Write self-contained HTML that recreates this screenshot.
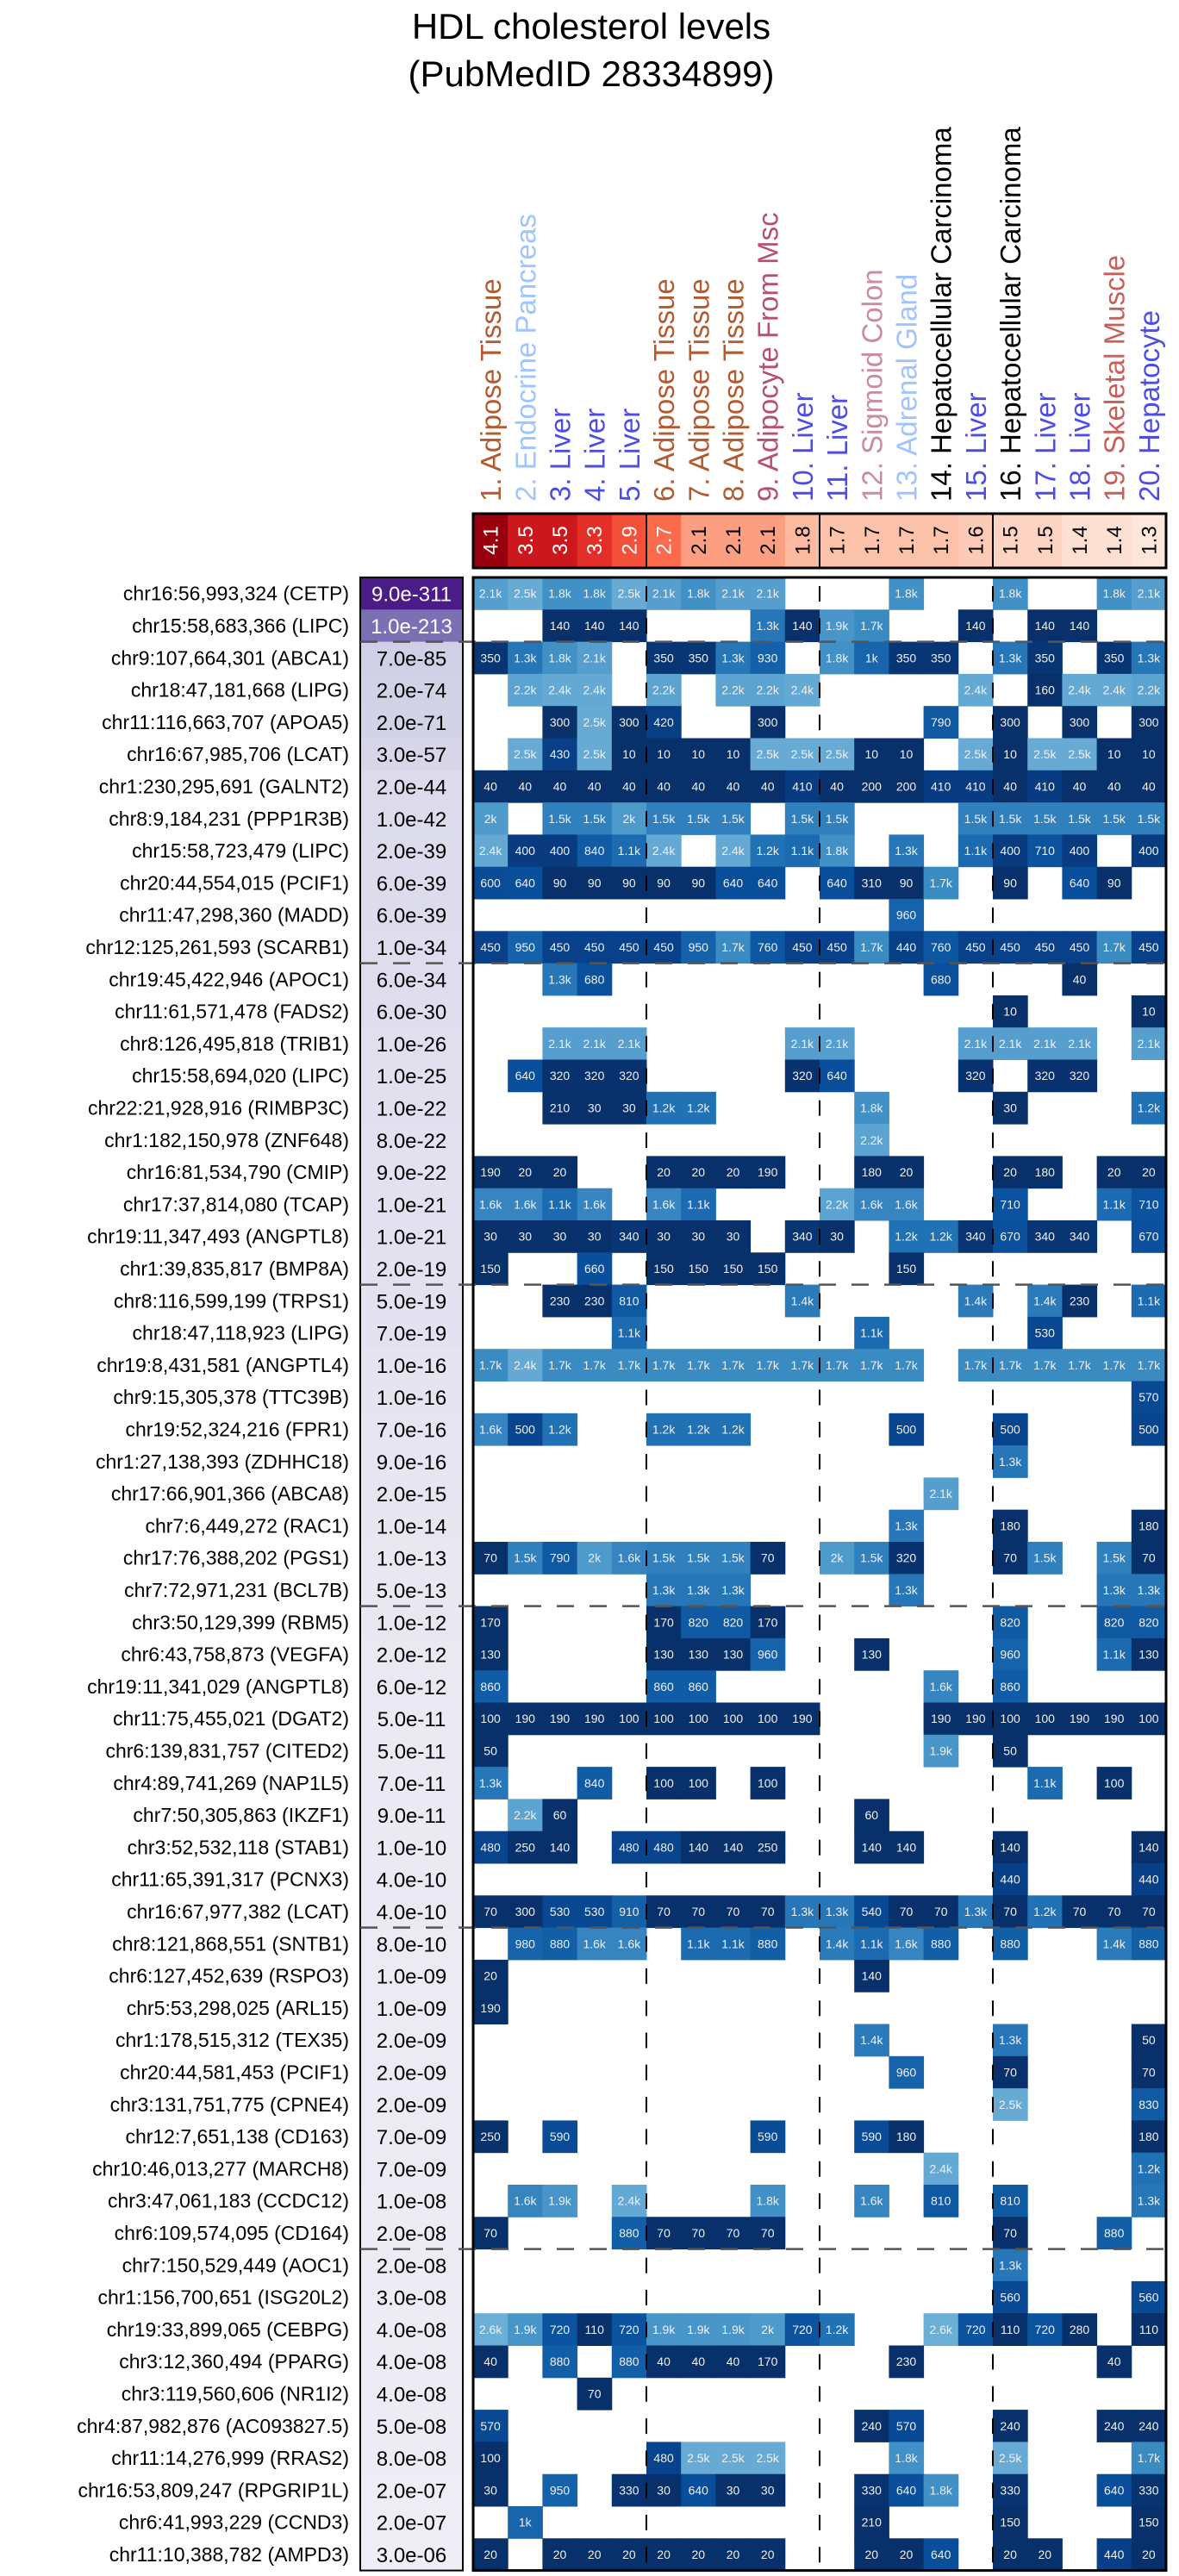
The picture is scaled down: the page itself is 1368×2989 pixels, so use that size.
<!DOCTYPE html>
<html><head><meta charset="utf-8">
<style>
html,body{margin:0;padding:0;background:#fff;}
svg{display:block;font-family:"Liberation Sans",Arial,sans-serif;}
</style></head>
<body>
<svg id="chart" xmlns="http://www.w3.org/2000/svg" width="1368" height="2989" viewBox="0 0 1368 2989">
<text x="686" y="45" font-size="42" text-anchor="middle">HDL cholesterol levels</text>
<text x="686" y="100" font-size="42" text-anchor="middle">(PubMedID 28334899)</text>
<g id="cols"></g><g id="strip"></g><g id="rows"></g><g id="pbox"></g><g id="heat"></g><g id="lines"></g>
</svg>
<script>
const tissues = ["1. Adipose Tissue","2. Endocrine Pancreas","3. Liver","4. Liver","5. Liver","6. Adipose Tissue","7. Adipose Tissue","8. Adipose Tissue","9. Adipocyte From Msc","10. Liver","11. Liver","12. Sigmoid Colon","13. Adrenal Gland","14. Hepatocellular Carcinoma","15. Liver","16. Hepatocellular Carcinoma","17. Liver","18. Liver","19. Skeletal Muscle","20. Hepatocyte"];
const tissueColors = ["#b35a2f","#9fc4ff","#4d4de6","#4d4de6","#4d4de6","#b35a2f","#b35a2f","#b35a2f","#b85070","#4d4de6","#4d4de6","#c98ca0","#9fc4ff","#000000","#4d4de6","#000000","#4d4de6","#4d4de6","#c8605a","#4d4de6"];
const enrichment = [4.1,3.5,3.5,3.3,2.9,2.7,2.1,2.1,2.1,1.8,1.7,1.7,1.7,1.7,1.6,1.5,1.5,1.4,1.4,1.3];
const snps = ["chr16:56,993,324 (CETP)","chr15:58,683,366 (LIPC)","chr9:107,664,301 (ABCA1)","chr18:47,181,668 (LIPG)","chr11:116,663,707 (APOA5)","chr16:67,985,706 (LCAT)","chr1:230,295,691 (GALNT2)","chr8:9,184,231 (PPP1R3B)","chr15:58,723,479 (LIPC)","chr20:44,554,015 (PCIF1)","chr11:47,298,360 (MADD)","chr12:125,261,593 (SCARB1)","chr19:45,422,946 (APOC1)","chr11:61,571,478 (FADS2)","chr8:126,495,818 (TRIB1)","chr15:58,694,020 (LIPC)","chr22:21,928,916 (RIMBP3C)","chr1:182,150,978 (ZNF648)","chr16:81,534,790 (CMIP)","chr17:37,814,080 (TCAP)","chr19:11,347,493 (ANGPTL8)","chr1:39,835,817 (BMP8A)","chr8:116,599,199 (TRPS1)","chr18:47,118,923 (LIPG)","chr19:8,431,581 (ANGPTL4)","chr9:15,305,378 (TTC39B)","chr19:52,324,216 (FPR1)","chr1:27,138,393 (ZDHHC18)","chr17:66,901,366 (ABCA8)","chr7:6,449,272 (RAC1)","chr17:76,388,202 (PGS1)","chr7:72,971,231 (BCL7B)","chr3:50,129,399 (RBM5)","chr6:43,758,873 (VEGFA)","chr19:11,341,029 (ANGPTL8)","chr11:75,455,021 (DGAT2)","chr6:139,831,757 (CITED2)","chr4:89,741,269 (NAP1L5)","chr7:50,305,863 (IKZF1)","chr3:52,532,118 (STAB1)","chr11:65,391,317 (PCNX3)","chr16:67,977,382 (LCAT)","chr8:121,868,551 (SNTB1)","chr6:127,452,639 (RSPO3)","chr5:53,298,025 (ARL15)","chr1:178,515,312 (TEX35)","chr20:44,581,453 (PCIF1)","chr3:131,751,775 (CPNE4)","chr12:7,651,138 (CD163)","chr10:46,013,277 (MARCH8)","chr3:47,061,183 (CCDC12)","chr6:109,574,095 (CD164)","chr7:150,529,449 (AOC1)","chr1:156,700,651 (ISG20L2)","chr19:33,899,065 (CEBPG)","chr3:12,360,494 (PPARG)","chr3:119,560,606 (NR1I2)","chr4:87,982,876 (AC093827.5)","chr11:14,276,999 (RRAS2)","chr16:53,809,247 (RPGRIP1L)","chr6:41,993,229 (CCND3)","chr11:10,388,782 (AMPD3)"];
const pvalues = ["9.0e-311","1.0e-213","7.0e-85","2.0e-74","2.0e-71","3.0e-57","2.0e-44","1.0e-42","2.0e-39","6.0e-39","6.0e-39","1.0e-34","6.0e-34","6.0e-30","1.0e-26","1.0e-25","1.0e-22","8.0e-22","9.0e-22","1.0e-21","1.0e-21","2.0e-19","5.0e-19","7.0e-19","1.0e-16","1.0e-16","7.0e-16","9.0e-16","2.0e-15","1.0e-14","1.0e-13","5.0e-13","1.0e-12","2.0e-12","6.0e-12","5.0e-11","5.0e-11","7.0e-11","9.0e-11","1.0e-10","4.0e-10","4.0e-10","8.0e-10","1.0e-09","1.0e-09","2.0e-09","2.0e-09","2.0e-09","7.0e-09","7.0e-09","1.0e-08","2.0e-08","2.0e-08","3.0e-08","4.0e-08","4.0e-08","4.0e-08","5.0e-08","8.0e-08","2.0e-07","2.0e-07","3.0e-06"];
const cells = [
"2.1k,2.5k,1.8k,1.8k,2.5k,2.1k,1.8k,2.1k,2.1k,,,,1.8k,,,1.8k,,,1.8k,2.1k",
",,140,140,140,,,,1.3k,140,1.9k,1.7k,,,140,,140,140,,",
"350,1.3k,1.8k,2.1k,,350,350,1.3k,930,,1.8k,1k,350,350,,1.3k,350,,350,1.3k",
",2.2k,2.4k,2.4k,,2.2k,,2.2k,2.2k,2.4k,,,,,2.4k,,160,2.4k,2.4k,2.2k",
",,300,2.5k,300,420,,,300,,,,,790,,300,,300,,300",
",2.5k,430,2.5k,10,10,10,10,2.5k,2.5k,2.5k,10,10,,2.5k,10,2.5k,2.5k,10,10",
"40,40,40,40,40,40,40,40,40,410,40,200,200,410,410,40,410,40,40,40",
"2k,,1.5k,1.5k,2k,1.5k,1.5k,1.5k,,1.5k,1.5k,,,,1.5k,1.5k,1.5k,1.5k,1.5k,1.5k",
"2.4k,400,400,840,1.1k,2.4k,,2.4k,1.2k,1.1k,1.8k,,1.3k,,1.1k,400,710,400,,400",
"600,640,90,90,90,90,90,640,640,,640,310,90,1.7k,,90,,640,90,",
",,,,,,,,,,,,960,,,,,,,",
"450,950,450,450,450,450,950,1.7k,760,450,450,1.7k,440,760,450,450,450,450,1.7k,450",
",,1.3k,680,,,,,,,,,,680,,,,40,,",
",,,,,,,,,,,,,,,10,,,,10",
",,2.1k,2.1k,2.1k,,,,,2.1k,2.1k,,,,2.1k,2.1k,2.1k,2.1k,,2.1k",
",640,320,320,320,,,,,320,640,,,,320,,320,320,,",
",,210,30,30,1.2k,1.2k,,,,,1.8k,,,,30,,,,1.2k",
",,,,,,,,,,,2.2k,,,,,,,,",
"190,20,20,,,20,20,20,190,,,180,20,,,20,180,,20,20",
"1.6k,1.6k,1.1k,1.6k,,1.6k,1.1k,,,,2.2k,1.6k,1.6k,,,710,,,1.1k,710",
"30,30,30,30,340,30,30,30,,340,30,,1.2k,1.2k,340,670,340,340,,670",
"150,,,660,,150,150,150,150,,,,150,,,,,,,",
",,230,230,810,,,,,1.4k,,,,,1.4k,,1.4k,230,,1.1k",
",,,,1.1k,,,,,,,1.1k,,,,,530,,,",
"1.7k,2.4k,1.7k,1.7k,1.7k,1.7k,1.7k,1.7k,1.7k,1.7k,1.7k,1.7k,1.7k,,1.7k,1.7k,1.7k,1.7k,1.7k,1.7k",
",,,,,,,,,,,,,,,,,,,570",
"1.6k,500,1.2k,,,1.2k,1.2k,1.2k,,,,,500,,,500,,,,500",
",,,,,,,,,,,,,,,1.3k,,,,",
",,,,,,,,,,,,,2.1k,,,,,,",
",,,,,,,,,,,,1.3k,,,180,,,,180",
"70,1.5k,790,2k,1.6k,1.5k,1.5k,1.5k,70,,2k,1.5k,320,,,70,1.5k,,1.5k,70",
",,,,,1.3k,1.3k,1.3k,,,,,1.3k,,,,,,1.3k,1.3k",
"170,,,,,170,820,820,170,,,,,,,820,,,820,820",
"130,,,,,130,130,130,960,,,130,,,,960,,,1.1k,130",
"860,,,,,860,860,,,,,,,1.6k,,860,,,,",
"100,190,190,190,100,100,100,100,100,190,,,,190,190,100,100,190,190,100",
"50,,,,,,,,,,,,,1.9k,,50,,,,",
"1.3k,,,840,,100,100,,100,,,,,,,,1.1k,,100,",
",2.2k,60,,,,,,,,,60,,,,,,,,",
"480,250,140,,480,480,140,140,250,,,140,140,,,140,,,,140",
",,,,,,,,,,,,,,,440,,,,440",
"70,300,530,530,910,70,70,70,70,1.3k,1.3k,540,70,70,1.3k,70,1.2k,70,70,70",
",980,880,1.6k,1.6k,,1.1k,1.1k,880,,1.4k,1.1k,1.6k,880,,880,,,1.4k,880",
"20,,,,,,,,,,,140,,,,,,,,",
"190,,,,,,,,,,,,,,,,,,,",
",,,,,,,,,,,1.4k,,,,1.3k,,,,50",
",,,,,,,,,,,,960,,,70,,,,70",
",,,,,,,,,,,,,,,2.5k,,,,830",
"250,,590,,,,,,590,,,590,180,,,,,,,180",
",,,,,,,,,,,,,2.4k,,,,,,1.2k",
",1.6k,1.9k,,2.4k,,,,1.8k,,,1.6k,,810,,810,,,,1.3k",
"70,,,,880,70,70,70,70,,,,,,,70,,,880,",
",,,,,,,,,,,,,,,1.3k,,,,",
",,,,,,,,,,,,,,,560,,,,560",
"2.6k,1.9k,720,110,720,1.9k,1.9k,1.9k,2k,720,1.2k,,,2.6k,720,110,720,280,,110",
"40,,880,,880,40,40,40,170,,,,230,,,,,,40,",
",,,70,,,,,,,,,,,,,,,,",
"570,,,,,,,,,,,240,570,,,240,,,240,240",
"100,,,,,480,2.5k,2.5k,2.5k,,,,1.8k,,,2.5k,,,,1.7k",
"30,,950,,330,30,640,30,30,,,330,640,1.8k,,330,,,640,330",
",1k,,,,,,,,,,210,,,,150,,,,150",
"20,,20,20,20,20,20,20,20,,,20,20,640,,20,20,,440,20"
];

const NS = "http://www.w3.org/2000/svg";
const X0 = 549, CW = 40.2, Y0 = 670, RH = 37.3;
const PX0 = 418, PX1 = 537;
function colX(i){ return X0 + i*CW; }
function rowY(r){ return Y0 + r*RH; }
function mk(tag, attrs, parent, txt){
  const el = document.createElementNS(NS, tag);
  for (const k in attrs) el.setAttribute(k, attrs[k]);
  if (txt !== undefined) el.textContent = txt;
  parent.appendChild(el);
  return el;
}
function hex2rgb(h){ return [parseInt(h.slice(1,3),16),parseInt(h.slice(3,5),16),parseInt(h.slice(5,7),16)]; }
function ramp(stops, v){
  if (v <= stops[0][0]) return stops[0][1];
  for (let i=1;i<stops.length;i++){
    if (v <= stops[i][0]){
      const t=(v-stops[i-1][0])/(stops[i][0]-stops[i-1][0]);
      const a=hex2rgb(stops[i-1][1]), b=hex2rgb(stops[i][1]);
      return "rgb("+a.map((c,j)=>Math.round(c+(b[j]-c)*t)).join(",")+")";
    }
  }
  return stops[stops.length-1][1];
}
const blueStops = [[0,"#08306b"],[300,"#08306b"],[450,"#08418a"],[650,"#094f9b"],[900,"#135fa8"],[1200,"#2171b5"],[1500,"#3080bd"],[1800,"#4190c6"],[2200,"#5ba3d0"],[2600,"#6baed6"]];
const redStops = [[1.3,"#fee6da"],[1.4,"#fee0d2"],[1.5,"#fdd4c2"],[1.6,"#fdcab5"],[1.7,"#fcc2aa"],[1.8,"#fcbba1"],[2.1,"#fc9f81"],[2.7,"#fb6a4a"],[2.9,"#f4513a"],[3.3,"#e32f27"],[3.5,"#cb181d"],[4.1,"#99000d"]];
const purpleStops = [[5,"#efedf5"],[20,"#e3e1ef"],[85,"#cfcfe5"],[213,"#7b70b3"],[311,"#4b1a87"]];
function parseVal(s){ return s.endsWith("k") ? parseFloat(s)*1000 : parseFloat(s); }

const gCols = document.getElementById("cols");
const gStrip = document.getElementById("strip");
const gRows = document.getElementById("rows");
const gP = document.getElementById("pbox");
const gHeat = document.getElementById("heat");
const gLines = document.getElementById("lines");

tissues.forEach((t,i)=>{
  const cx = colX(i)+CW/2+12;
  const el = mk("text",{x:0,y:0,"font-size":"33",fill:tissueColors[i],transform:"translate("+cx+",582) rotate(-90)"},gCols,t);
  
  
});

enrichment.forEach((v,i)=>{
  const r = mk("rect",{x:colX(i),y:596,width:CW+0.5,height:63,fill:ramp(redStops,v)},gStrip);
  
  
  const cx = colX(i)+CW/2+8.5;
  const t = mk("text",{x:0,y:0,"font-size":"24","text-anchor":"middle",fill:v>=2.5?"#fff":"#000",transform:"translate("+cx+",627) rotate(-90)"},gStrip,v.toFixed(1));
  
  
});
[5,10,15].forEach(c=>{
  const l = mk("line",{x1:colX(c),x2:colX(c),y1:596,y2:659,stroke:"#000","stroke-width":2},gStrip);
  
  
});
const sb = mk("rect",{x:colX(0),y:596,width:CW*20,height:63,fill:"none",stroke:"#000","stroke-width":3},gStrip);



snps.forEach((s,r)=>{
  const y = rowY(r);
  const t = mk("text",{x:405,y:y+RH/2+8,"font-size":"23","text-anchor":"end",fill:"#000"},gRows,s);
  
  
  const p = pvalues[r];
  const e = -Math.log10(parseFloat(p));
  const pr = mk("rect",{x:PX0,y:y,width:PX1-PX0,height:RH+0.5,fill:ramp(purpleStops,e)},gP);
  
  
  const pt = mk("text",{x:(PX0+PX1)/2,y:y+RH/2+9,"font-size":"24","text-anchor":"middle",fill:e>150?"#fff":"#000"},gP,p);
  
  

  const vals = cells[r].split(",");
  vals.forEach((v,c)=>{
    if (!v) return;
    const n = parseVal(v);
    const cr = mk("rect",{x:colX(c),y:y,width:CW+0.5,height:RH+0.5,fill:ramp(blueStops,n)},gHeat);
    
    
    const ct = mk("text",{x:colX(c)+CW/2,y:y+RH/2+5,"font-size":"14","text-anchor":"middle",fill:"#f0f0f0"},gHeat,v);
    
    
  });
});
const pb = mk("rect",{x:PX0,y:Y0,width:PX1-PX0,height:RH*62,fill:"none",stroke:"#000","stroke-width":2},gP);



[5,10,15].forEach(c=>{
  const l = mk("line",{x1:colX(c),x2:colX(c),y1:Y0+10,y2:Y0+RH*62,stroke:"#000","stroke-width":2,"stroke-dasharray":"18,19.3"},gLines);
  
  
});
[2,12,22,32,42,52].forEach(r=>{
  const l = mk("line",{x1:PX0,x2:colX(20),y1:rowY(r),y2:rowY(r),stroke:"#555","stroke-width":2.5,"stroke-dasharray":"20,18"},gLines);
  
  
});
const hb = mk("rect",{x:colX(0),y:Y0,width:CW*20,height:RH*62,fill:"none",stroke:"#000","stroke-width":3},gLines);


</script>
</body></html>
